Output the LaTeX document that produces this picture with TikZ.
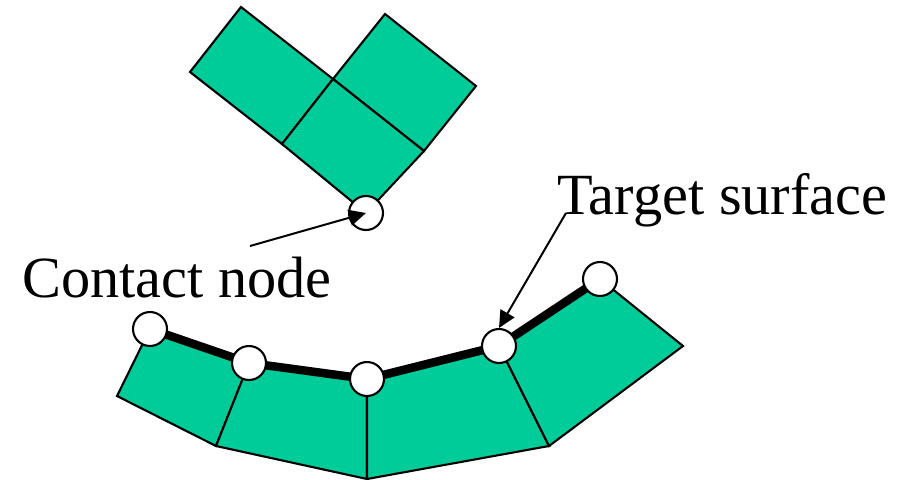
\documentclass[tikz,border=0pt]{standalone}
\usepackage{fontspec}
\setmainfont{Liberation Serif}
\usetikzlibrary{arrows.meta}
\definecolor{meshgreen}{RGB}{0,204,153}
\tikzset{
  element/.style={draw, fill=meshgreen, line width=.042cm, line join=miter},
  surfnode/.style={draw, fill=white, circle, inner sep=0, minimum size=.68cm, line width=.042cm},
  leader/.style={-{Triangle[length=.34cm,width=.32cm]}, line width=.04cm},
  tag/.style={anchor=base west, inner sep=0, font=\fontsize{33.2}{36}\selectfont}
}
\begin{document}
\begin{tikzpicture}[x=.02cm, y=-.02cm]
  \useasboundingbox (0,0) rectangle (897,480);
  % upper body
  \coordinate (u1) at (241,7);
  \coordinate (u2) at (190,72);
  \coordinate (u3) at (333,79);
  \coordinate (u4) at (385,14);
  \coordinate (u5) at (476,86);
  \coordinate (u6) at (282,144);
  \coordinate (u7) at (424,151);
  \coordinate (u8) at (366,213);
  \draw [element] (u1) -- (u3) -- (u6) -- (u2) -- cycle;
  \draw [element] (u3) -- (u4) -- (u5) -- (u7) -- cycle;
  \draw [element] (u6) -- (u3) -- (u7) -- (u8) -- cycle;
  % lower body
  \coordinate (s1) at (150,329);
  \coordinate (s2) at (249,363);
  \coordinate (s3) at (367,379);
  \coordinate (s4) at (499,346);
  \coordinate (s5) at (600,279);
  \coordinate (b1) at (117,396);
  \coordinate (b2) at (216,446);
  \coordinate (b3) at (367,479);
  \coordinate (b4) at (549,446);
  \coordinate (b5) at (683,346);
  \draw [element] (s1) -- (s2) -- (b2) -- (b1) -- cycle;
  \draw [element] (s2) -- (s3) -- (b3) -- (b2) -- cycle;
  \draw [element] (s3) -- (s4) -- (b4) -- (b3) -- cycle;
  \draw [element] (s4) -- (s5) -- (b5) -- (b4) -- cycle;
  \draw [line width=.17cm] (s1) -- (s2) -- (s3) -- (s4) -- (s5);
  % circles
  \node (contactpt) at (u8) [surfnode] {};
  \node (n1) at (s1) [surfnode] {};
  \node (n2) at (s2) [surfnode] {};
  \node (n3) at (s3) [surfnode] {};
  \node (n4) at (s4) [surfnode] {};
  \node (n5) at (s5) [surfnode] {};
  % labels
  \node (contactlbl) at (22,297) [tag] {Contact node};
  \node (targetlbl) at (557,214) [tag] {Target surface};
  \coordinate (ctail) at (250,246);
  \coordinate (ttail) at (566,213);
  \draw [leader] (ctail) -- (contactpt.center);
  \draw [leader] (ttail) -- (n4.north);
\end{tikzpicture}
\end{document}
